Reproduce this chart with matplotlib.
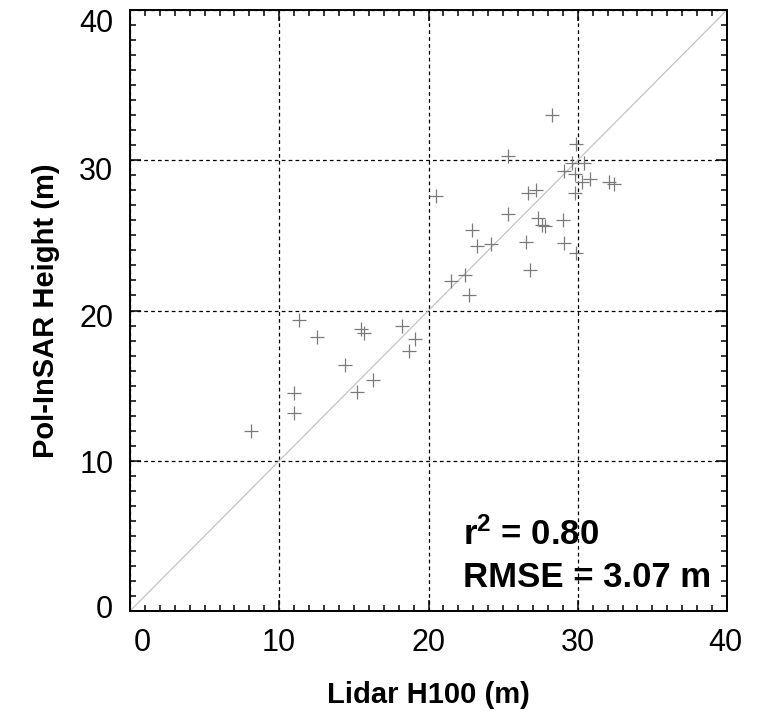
import matplotlib
matplotlib.use("Agg")
import matplotlib.pyplot as plt
from matplotlib.ticker import MultipleLocator
from matplotlib.transforms import ScaledTranslation

plt.rcParams['font.family'] = ['Liberation Sans', 'DejaVu Sans']
plt.rcParams['mathtext.fontset'] = 'custom'
plt.rcParams['mathtext.rm'] = 'Liberation Sans:bold'
plt.rcParams['mathtext.it'] = 'Liberation Sans:bold'
plt.rcParams['mathtext.bf'] = 'Liberation Sans:bold'
plt.rcParams['mathtext.default'] = 'rm'

# Lidar H100 (m)
lidar_h100 = [8.1, 11.0, 11.0, 11.3, 12.5, 14.4, 15.2, 15.5, 15.7, 16.3,
              18.2, 19.1, 18.7, 20.5, 21.5, 22.45, 22.7, 22.9, 23.25, 24.2,
              25.3, 25.3, 26.5, 26.8, 26.7, 27.2, 27.35, 27.6, 27.8, 29.0,
              29.1, 29.85, 28.25, 29.9, 29.6, 30.4, 29.1, 29.8, 30.3, 30.8,
              32.1, 32.4, 29.8]
# Pol-InSAR Height (m)
polinsar_height = [12.0, 13.2, 14.5, 19.4, 18.25, 16.4, 14.6, 18.8, 18.5, 15.4,
                   19.0, 18.1, 17.3, 27.6, 21.95, 22.35, 21.0, 25.35, 24.3, 24.4,
                   26.4, 30.3, 24.55, 22.7, 27.85, 28.05, 26.15, 25.7, 25.65, 26.0,
                   24.5, 23.85, 33.0, 31.1, 29.8, 29.8, 29.3, 29.1, 28.55, 28.75,
                   28.55, 28.4, 27.8]

axis_limits = [0, 40]
major_ticks = [0, 10, 20, 30, 40]
stats_lines = [r"r$^{2}$ = 0.80", "RMSE = 3.07 m"]

fig = plt.figure(figsize=(7.61, 7.19), dpi=100)
ax = fig.add_axes([130 / 761, 1 - 611 / 719, 597 / 761, 601 / 719])

# 1:1 line
ax.plot(axis_limits, axis_limits, color='#c4c4c4', lw=0.9, zorder=2)

# scatter points
ax.plot(lidar_h100, polinsar_height, linestyle='none', marker='+',
        markersize=10, markeredgewidth=0.9, color='#7a7a7a', zorder=3)

ax.set_xlim(axis_limits)
ax.set_ylim(axis_limits)
ax.set_xticks(major_ticks)
ax.set_yticks(major_ticks)
ax.xaxis.set_minor_locator(MultipleLocator(1))
ax.yaxis.set_minor_locator(MultipleLocator(1))
ax.tick_params(which='both', direction='in', top=True, right=True,
               labelsize=22, colors='black', width=1.1)
ax.tick_params(which='major', length=8, pad=12)
ax.tick_params(which='minor', length=4.5)

# small label offsets like the original (pixels)
y_offsets_px = [4, -1, -5, -8, -11]
x_offsets_px = [12, -1, 0, 0, -2]
for tick, dy in zip(ax.yaxis.get_major_ticks(), y_offsets_px):
    lab = tick.label1
    lab.set_transform(lab.get_transform() + ScaledTranslation(0, dy / 100, fig.dpi_scale_trans))
for tick, dx in zip(ax.xaxis.get_major_ticks(), x_offsets_px):
    lab = tick.label1
    lab.set_transform(lab.get_transform() + ScaledTranslation(dx / 100, 0, fig.dpi_scale_trans))

ax.grid(True, which='major', color='black', linestyle=(0, (3, 2.5)), lw=0.9)
for s in ax.spines.values():
    s.set_linewidth(1.4)

ax.set_xlabel('Lidar H100 (m)', fontsize=21, fontweight='bold', labelpad=17)
ax.set_ylabel('Pol-InSAR Height (m)', fontsize=21, fontweight='bold', labelpad=14)

ax.text(22.3, 4.4, stats_lines[0], fontsize=25, fontweight='bold',
        ha='left', va='baseline', zorder=5)
ax.text(22.3, 1.6, stats_lines[1], fontsize=25, fontweight='bold',
        ha='left', va='baseline', zorder=5)

fig.savefig('out.png', dpi=100)
